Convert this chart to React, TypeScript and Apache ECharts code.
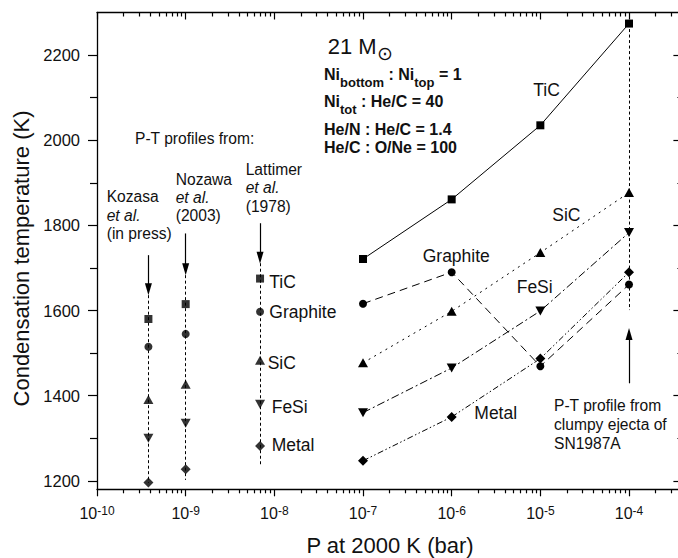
import React, { useEffect, useRef } from 'react';
import * as echarts from 'echarts';

// ---------- data ----------
const pressures = [1e-7, 1e-6, 1e-5, 1e-4];
const ticT = [1721, 1861, 2035, 2274];
const sicT = [1477, 1598, 1736, 1877];
const graphiteT = [1616, 1690, 1469, 1661];
const fesiT = [1360, 1465, 1599, 1783];
const metalT = [1247, 1350, 1487, 1690];

// P-T profiles from literature: Kozasa, Nozawa, Lattimer
const profileP = [3.8e-10, 1e-9, 6.9e-9];
const ticProfileT = [1580, 1615, 1675];
const graphiteProfileT = [1515, 1545, 1597];
const sicProfileT = [1391, 1427, 1483];
const fesiProfileT = [1300, 1335, 1380];
const metalProfileT = [1196, 1227, 1282];
const profileDashTopT = [1636, 1683, 1711];
const profileDashBottomT = [1195, 1202, 1233];
const profileArrowTailT = [1730, 1781, 1805];
const profileArrowHeadT = [1650, 1697, 1724];

// clumpy ejecta of SN1987A profile
const clumpyP = 1e-4;
const clumpyDashT = [2274, 1601];
const clumpyArrowT = [1429, 1545];

// axes
const xMin = 1e-10;
const xMax = 4e-4;
const xTickExponents = [-10, -9, -8, -7, -6, -5, -4];
const yMin = 1180;
const yMax = 2300;
const yTickValues = [1200, 1400, 1600, 1800, 2000, 2200];
const yMinorTickValues = [1300, 1500, 1700, 1900, 2100];

const FONT = "'Liberation Sans', Arial, Helvetica, sans-serif";
const INK = '#000';
const TXT = '#111';

export default function App() {
  const ref = useRef<HTMLDivElement>(null);

  useEffect(() => {
    if (!ref.current) return;
    const chart = echarts.init(ref.current, null, { renderer: 'svg' });

    const lxMin = Math.log10(xMin);
    const lxMax = Math.log10(xMax);
    const xMinor: number[] = [];
    for (let e = -10; e <= -4; e++) {
      for (let k = 2; k <= 9; k++) {
        const v = e + Math.log10(k);
        if (v < lxMax - 1e-6) xMinor.push(v);
      }
    }

    const tickLine = { color: INK, width: 1.2 };
    const decoX = (position: 'top' | 'bottom', values: number[], length: number, inside: boolean, line: boolean, labels: boolean) => ({
      type: 'value',
      position,
      min: lxMin,
      max: lxMax,
      axisLine: { show: line, onZero: false, lineStyle: { color: INK, width: 1.3 } },
      axisTick: { show: true, inside, length, customValues: values, lineStyle: tickLine },
      axisLabel: labels
        ? {
            show: true,
            customValues: values,
            margin: 16,
            formatter: (v: number) => `{b|10}{s|${Math.round(v)}}`,
            rich: {
              b: { fontSize: 16, fontFamily: FONT, color: TXT, lineHeight: 20, verticalAlign: 'top' },
              s: { fontSize: 12, fontFamily: FONT, color: TXT, lineHeight: 11, verticalAlign: 'top' },
            },
          }
        : { show: false },
      splitLine: { show: false },
      minorTick: { show: false },
    });
    const decoY = (position: 'left' | 'right', values: number[], length: number, inside: boolean, line: boolean, labels: boolean) => ({
      type: 'value',
      position,
      min: yMin,
      max: yMax,
      axisLine: { show: line, onZero: false, lineStyle: { color: INK, width: 1.3 } },
      axisTick: { show: true, inside, length, customValues: values, lineStyle: tickLine },
      axisLabel: labels
        ? {
            show: true,
            customValues: values,
            margin: 17,
            fontSize: 16.5,
            fontFamily: FONT,
            color: TXT,
            formatter: (v: number) => String(Math.round(v)),
          }
        : { show: false },
      splitLine: { show: false },
    });

    const curve = (name: string, temps: number[], symbol: string, size: any, dash: any, rotate = 0) => ({
      name,
      type: 'line',
      xAxisIndex: 0,
      yAxisIndex: 0,
      data: pressures.map((p, i) => [p, temps[i]]),
      symbol,
      symbolSize: size,
      symbolRotate: rotate,
      showSymbol: true,
      itemStyle: { color: INK },
      lineStyle: { color: INK, width: 1, type: dash },
      silent: true,
      z: 3,
    });
    const profilePts = (name: string, temps: number[], symbol: string, size: any, rotate = 0) => ({
      name,
      type: 'scatter',
      xAxisIndex: 0,
      yAxisIndex: 0,
      data: profileP.map((p, i) => [p, temps[i]]),
      symbol,
      symbolSize: size,
      symbolRotate: rotate,
      itemStyle: { color: INK },
      silent: true,
      z: 4,
    });

    const text = (x: number, y: number, t: string, size: number, extra: any = {}) => ({
      type: 'text',
      x,
      y,
      silent: true,
      style: { text: t, fontSize: size, fontFamily: FONT, fill: TXT, align: 'left', verticalAlign: 'middle', ...extra },
    });
    const boldRich = (x: number, y: number, t: string) => ({
      type: 'text',
      x,
      y,
      silent: true,
      style: {
        text: t,
        align: 'left',
        verticalAlign: 'top',
        rich: {
          m: { fontSize: 16, fontWeight: 'bold', fontFamily: FONT, fill: TXT, lineHeight: 18, verticalAlign: 'top' },
          s: { fontSize: 13, fontWeight: 'bold', fontFamily: FONT, fill: TXT, lineHeight: 10, padding: [10, 0, 0, 0], verticalAlign: 'top' },
        },
      },
    });

    const option: any = {
      animation: false,
      backgroundColor: '#fff',
      grid: { left: 97, top: 12.5, width: 585.4, height: 476.8, containLabel: false, outerBoundsMode: 'none' },
      xAxis: [
        { type: 'log', logBase: 10, min: xMin, max: xMax, show: false, position: 'bottom' },
        decoX('bottom', xTickExponents, 7, false, true, true),
        decoX('bottom', xMinor, 4, false, false, false),
        decoX('top', xTickExponents, 7, true, true, false),
        decoX('top', xMinor, 4, true, false, false),
      ],
      yAxis: [
        decoY('left', yTickValues, 9, false, true, true),
        decoY('left', yMinorTickValues, 7, false, false, false),
        decoY('right', yTickValues, 9, true, true, false),
        decoY('right', yMinorTickValues, 5, true, false, false),
      ],
      series: [
        {
          name: 'profiles',
          type: 'lines',
          coordinateSystem: 'cartesian2d',
          xAxisIndex: 0,
          yAxisIndex: 0,
          data: [
            ...profileP.map((p, i) => ({ coords: [[p, profileDashTopT[i]], [p, profileDashBottomT[i]]] })),
            { coords: [[clumpyP, clumpyDashT[0]], [clumpyP, clumpyDashT[1]]] },
          ],
          symbol: 'none',
          lineStyle: { color: INK, width: 1, type: [3, 2.5], opacity: 1, curveness: 0 },
          silent: true,
          z: 2,
        },
        {
          name: 'arrows',
          type: 'lines',
          coordinateSystem: 'cartesian2d',
          xAxisIndex: 0,
          yAxisIndex: 0,
          data: [
            ...profileP.map((p, i) => ({ coords: [[p, profileArrowTailT[i]], [p, profileArrowHeadT[i]]] })),
            { coords: [[clumpyP, clumpyArrowT[0]], [clumpyP, clumpyArrowT[1]]] },
          ],
          symbol: ['none', 'triangle'],
          symbolSize: [0, [7, 12]],
          itemStyle: { color: INK },
          lineStyle: { color: INK, width: 1.2, type: 'solid', opacity: 1, curveness: 0 },
          silent: true,
          z: 2,
        },
        curve('TiC', ticT, 'rect', 8, 'solid'),
        curve('SiC', sicT, 'triangle', [10, 9], [2, 4.5]),
        curve('Graphite', graphiteT, 'circle', 8, [8, 5]),
        curve('FeSi', fesiT, 'triangle', [10, 9], [8, 3, 2, 3], 180),
        curve('Metal', metalT, 'diamond', [10, 10], [6, 2.5, 1.5, 2.5, 1.5, 2.5]),
        profilePts('TiC profile', ticProfileT, 'rect', 8),
        profilePts('Graphite profile', graphiteProfileT, 'circle', 8),
        profilePts('SiC profile', sicProfileT, 'triangle', [10, 9]),
        profilePts('FeSi profile', fesiProfileT, 'triangle', [10, 9], 180),
        profilePts('Metal profile', metalProfileT, 'diamond', [10, 10]),
      ],
      graphic: {
        elements: [
          // axis titles
          text(390, 545, 'P at 2000 K (bar)', 22, { align: 'center' }),
          { ...text(21, 258.5, 'Condensation temperature (K)', 22, { align: 'center' }), rotation: Math.PI / 2 },
          // model parameters
          text(327.7, 46.7, '21 M', 22),
          text(385, 53, '\u2299', 19, { align: 'center', fontFamily: "'DejaVu Sans', sans-serif" }),
          boldRich(324, 66.2, '{m|Ni}{s|bottom}{m| : Ni}{s|top}{m| = 1}'),
          boldRich(324, 93, '{m|Ni}{s|tot}{m| : He/C = 40}'),
          text(324, 129.5, 'He/N : He/C = 1.4', 16, { fontWeight: 'bold' }),
          text(324, 147.5, 'He/C : O/Ne = 100', 16, { fontWeight: 'bold' }),
          // profile sources
          text(135, 138, 'P-T profiles from:', 15.6),
          text(106.7, 196.7, 'Kozasa', 15.6),
          text(106.7, 215, 'et al.', 15.6, { fontStyle: 'italic' }),
          text(106.7, 233.3, '(in press)', 15.6),
          text(175.7, 179, 'Nozawa', 15.6),
          text(175.7, 197.3, 'et al.', 15.6, { fontStyle: 'italic' }),
          text(175.7, 215.7, '(2003)', 15.6),
          text(245.7, 169.3, 'Lattimer', 15.6),
          text(245.7, 187.7, 'et al.', 15.6, { fontStyle: 'italic' }),
          text(245.7, 206, '(1978)', 15.6),
          // Lattimer point labels
          text(269.3, 281.7, 'TiC', 17.5),
          text(269.3, 311.7, 'Graphite', 17.5),
          text(267.7, 363.3, 'SiC', 17.5),
          text(271.7, 406.7, 'FeSi', 17.5),
          text(271.7, 445, 'Metal', 17.5),
          // curve labels
          text(533.3, 90, 'TiC', 17.5),
          text(552.3, 215, 'SiC', 17.5),
          text(422.7, 256, 'Graphite', 17.5),
          text(516.7, 287, 'FeSi', 17.5),
          text(474.3, 413.3, 'Metal', 17.5),
          // clumpy note
          text(554, 405, 'P-T profile from', 15.6),
          text(554, 424, 'clumpy ejecta of', 15.6),
          text(554, 443.3, 'SN1987A', 15.6),
        ],
      },
    };

    chart.setOption(option);
    return () => chart.dispose();
  }, []);

  return (
    <div
      ref={ref}
      style={{ position: 'fixed', left: 0, top: 0, width: 678, height: 558, background: '#fff', overflow: 'hidden' }}
    />
  );
}
